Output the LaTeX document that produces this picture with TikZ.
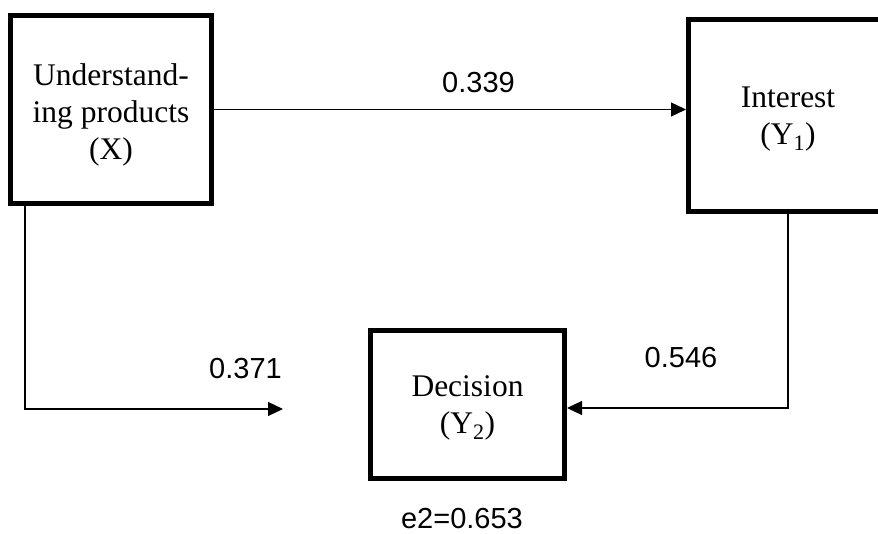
\documentclass[tikz,border=0pt]{standalone}
\usepackage{fontspec}
\setmainfont{Liberation Serif}
\newfontfamily\numfont{Liberation Sans}
\usetikzlibrary{arrows.meta}
\begin{document}
\begin{tikzpicture}[x=1pt,y=-1pt,
  box/.style={draw, line width=5pt, rectangle, inner sep=0pt, align=center,
    font=\fontsize{31.5}{37}\selectfont},
  conn/.style={line width=1.2pt, -{Triangle[length=15pt,width=14pt]}},
  val/.style={font=\numfont\fontsize{29}{34}\selectfont, inner sep=0pt, anchor=base}]
\useasboundingbox (0,0) rectangle (878,534);
\node[box, minimum width=201pt, minimum height=188pt] (X) at (111,109.5)
  {\rule{0pt}{32pt}Understand-\\ing products\\(X)};
\node[box, minimum width=199pt, minimum height=192pt] (Y1) at (788,115.5)
  {\rule{0pt}{28pt}Interest\\(Y\textsubscript{1})};
\node[box, minimum width=194pt, minimum height=148pt] (Y2) at (467.5,404.5)
  {\rule{0pt}{28pt}Decision\\(Y\textsubscript{2})};
\coordinate (xdrop) at ([xshift=17pt]X.south west);
\coordinate (xend) at (283,409);
\coordinate (yin) at (567,408);
\draw[conn] (X.east) -- (X.east -| Y1.west);
\draw[conn] (xdrop) |- (xend);
\draw[conn] (Y1.south) |- (yin);
\node[val] (l1) at (478.5,92.7) {0.339};
\node[val] (l2) at (245.5,378) {0.371};
\node[val] (l3) at (681,368) {0.546};
\node[val] (l4) at (462,528) {e2=0.653};
\end{tikzpicture}
\end{document}
